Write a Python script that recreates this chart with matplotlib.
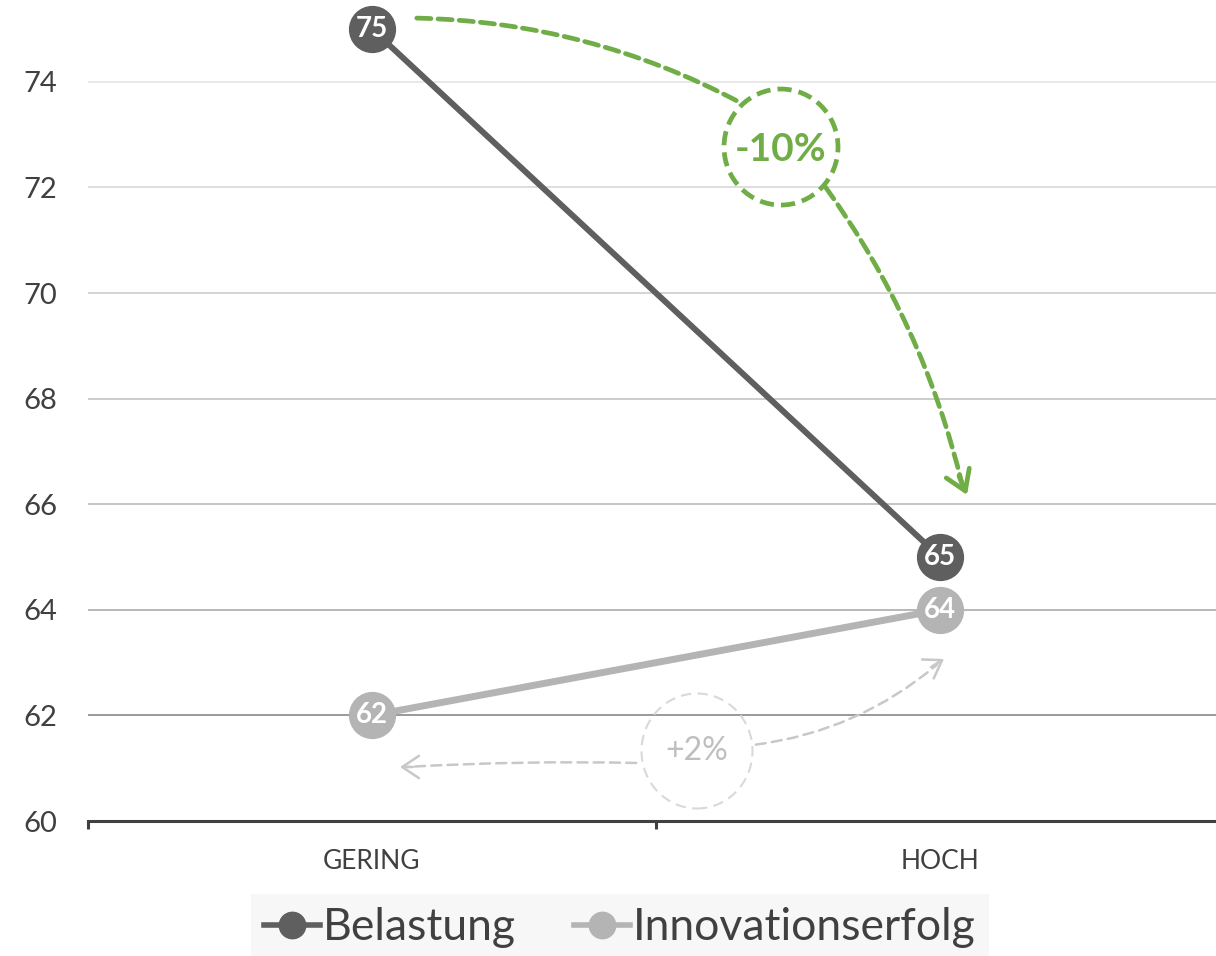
import matplotlib
matplotlib.use("Agg")
import matplotlib.pyplot as plt
from matplotlib.patches import Ellipse, FancyArrowPatch
from matplotlib.lines import Line2D

# ── Data ──────────────────────────────────────────────
categories   = ["GERING", "HOCH"]
belastung    = [75, 65]
innovation   = [62, 64]
series_names = ["Belastung", "Innovationserfolg"]
change_texts = ["-10%", "+2%"]
y_ticks      = [60, 62, 64, 66, 68, 70, 72, 74]

plt.rcParams["font.family"] = ["Lato", "DejaVu Sans"]

DARK  = "#5f5f5f"
LIGHT = "#b4b4b4"
GREEN = "#70ad47"
GREY_ARR = "#c8c8c8"

fig = plt.figure(figsize=(12.16, 9.56), dpi=100)
ax = fig.add_axes([88 / 1216, 135 / 956, 1136 / 1216, 821 / 956])
x = list(range(len(categories)))

ax.set_xlim(-0.5, 1.5)
ax.set_ylim(60, 75.55)

# gridlines get darker towards the bottom in the original
grid_cols = ["#999999", "#b8b8b8", "#c4c4c4", "#cccccc", "#d4d4d4", "#dedede", "#e8e8e8"]
for yv, c in zip(y_ticks[1:], grid_cols):
    ax.axhline(yv, color=c, lw=1.4, zorder=1)

ax.plot(x, belastung, color=DARK, lw=4.3, marker="o", ms=33, zorder=4,
        solid_capstyle="round")
ax.plot(x, innovation, color=LIGHT, lw=5, marker="o", ms=33, zorder=3,
        solid_capstyle="round")

for xi, v in zip(x, belastung):
    ax.text(xi, v, str(v), color="white", fontsize=20, fontweight="bold",
            ha="center", va="center", zorder=6)
for xi, v in zip(x, innovation):
    ax.text(xi, v, str(v), color="white", fontsize=20, fontweight="bold",
            ha="center", va="center", zorder=6)

# axes styling
for s in ["top", "right", "left"]:
    ax.spines[s].set_visible(False)
ax.spines["bottom"].set_color("#404040")
ax.spines["bottom"].set_linewidth(2.2)
ax.spines["bottom"].set_zorder(5)

ax.set_yticks(y_ticks)
ax.set_yticklabels([str(t) for t in y_ticks], fontsize=21, color="#404040")
ax.tick_params(axis="y", length=0, pad=22)
ax.set_xticks(x)
ax.set_xticklabels(categories, fontsize=19, color="#404040")
ax.tick_params(axis="x", which="major", length=0, pad=20)
ax.set_xticks([-0.5, 0.5, 1.5], minor=True)
ax.tick_params(axis="x", which="minor", length=6, width=2.2, color="#404040")

# ── change annotations ────────────────────────────────
px = lambda p: (p - 371) / 568
py = lambda p: 60 + (821 - p) / 52.8


def dashed_curve(p0, p1, rad, color, lw, dash, z):
    ax.add_patch(FancyArrowPatch((px(p0[0]), py(p0[1])), (px(p1[0]), py(p1[1])),
                                 connectionstyle=f"arc3,rad={rad}", arrowstyle="-",
                                 color=color, lw=lw, ls=(0, dash), zorder=z))


def head(tail, tip, color, lw, z, hl=0.7, hw=0.45):
    # solid open arrow head at the end of a dashed curve
    ax.add_patch(FancyArrowPatch((px(tail[0]), py(tail[1])), (px(tip[0]), py(tip[1])),
                                 arrowstyle=f"->,head_length={hl},head_width={hw}",
                                 mutation_scale=20, color=color, lw=lw,
                                 shrinkA=0, shrinkB=0, zorder=z))


# green: Belastung
ax.add_patch(Ellipse((px(780), py(147)), 114 / 568, 116 / 52.8, fill=False,
                     ec=GREEN, lw=3.4, ls=(0, (3, 1.5)), zorder=7))
ax.text(px(780), py(149), change_texts[0], color=GREEN, fontsize=28,
        fontweight="bold", ha="center", va="center", zorder=7)
dashed_curve((413, 18), (740, 103), -0.12, GREEN, 3.4, (3, 1.5), 7)
dashed_curve((823, 185), (962, 488), -0.1, GREEN, 3.4, (3, 1.5), 7)
head((958, 476), (966, 495), GREEN, 3.4, 7)

# grey: Innovationserfolg
ax.add_patch(Ellipse((px(696), py(751)), 111 / 568, 115 / 52.8, fill=False,
                     ec="#d9d9d9", lw=1.5, ls=(0, (5, 3)), zorder=2))
ax.text(px(696), py(751), change_texts[1], color="#bfbfbf", fontsize=23,
        ha="center", va="center", zorder=2)
dashed_curve((638, 763), (404, 767), 0.02, GREY_ARR, 1.8, (4, 2.5), 2)
head((412, 767), (399, 767), GREY_ARR, 1.8, 2, hl=0.6, hw=0.4)
dashed_curve((752, 745), (938, 663), 0.15, GREY_ARR, 1.8, (4, 2.5), 2)
head((930, 667), (943, 659), GREY_ARR, 1.8, 2, hl=0.6, hw=0.4)

# ── legend ────────────────────────────────────────────
handles = [Line2D([], [], color=DARK, lw=4, marker="o", ms=19),
           Line2D([], [], color=LIGHT, lw=4, marker="o", ms=19)]
leg = fig.legend(handles, series_names, loc="upper center",
                 bbox_to_anchor=(620 / 1216, 62 / 956), ncol=2, fontsize=32,
                 frameon=True, fancybox=False, handlelength=1.25,
                 handletextpad=0.08, columnspacing=1.3, borderpad=0.3,
                 borderaxespad=0, labelcolor="#404040")
leg.get_frame().set_facecolor("#f6f6f6")
leg.get_frame().set_edgecolor("none")

fig.savefig("out.png", dpi=100)
